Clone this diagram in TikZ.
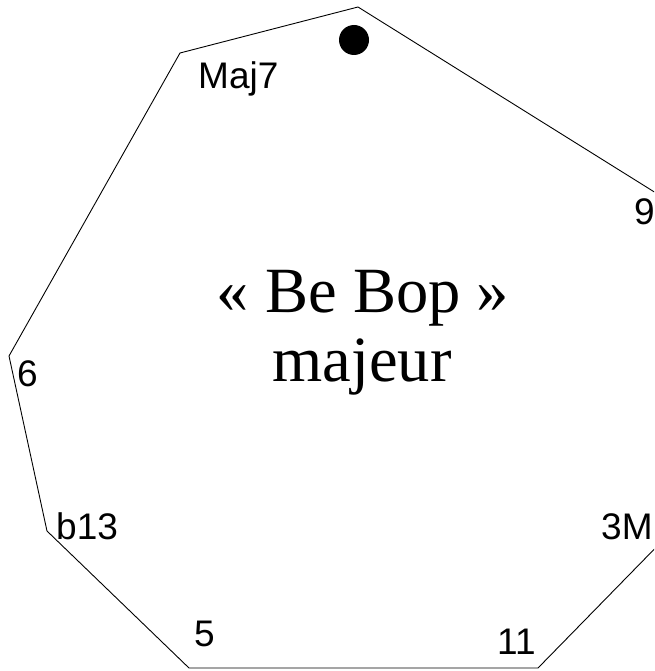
\documentclass[tikz,border=0pt]{standalone}
\usepackage{fontspec}
\setmainfont{Liberation Serif}
\newfontfamily\lab{Liberation Sans}
\begin{document}
\begin{tikzpicture}[x=1pt,y=-1pt,
  lbl/.style={anchor=base west,inner sep=0pt,font=\lab\fontsize{37}{42}\selectfont},
  edge/.style={draw=black,line width=0.9pt,line join=miter}]
\useasboundingbox (0,0) rectangle (654,671);
\clip (0,0) rectangle (654,671);
\coordinate (vT) at (358,7);
\coordinate (vTL) at (180,53);
\coordinate (vL) at (9,356);
\coordinate (vLL) at (47,531);
\coordinate (vBL) at (189,668);
\coordinate (vBR) at (538,668);
\coordinate (vRL) at (672,531);
\coordinate (vRU) at (672,203);
\draw[edge] (vT) -- (vTL) -- (vL) -- (vLL) -- (vBL) -- (vBR) -- (vRL) -- (vRU) -- cycle;
\fill (354,40) circle (15);
\node[lbl] (maj7) at (198,89) {Maj7};
\node[lbl] (nine) at (634,224) {9};
\node[lbl] (six) at (17,386) {6};
\node[lbl] (b13) at (56,539) {b13};
\node[lbl] (five) at (194,646) {5};
\node[lbl] (eleven) at (497,654) {11};
\node[lbl] (threeM) at (601,539) {3M};
\node[anchor=base,inner sep=0pt,font=\fontsize{64.5}{69}\selectfont] (t1) at (363,312) {« Be Bop »};
\node[anchor=base,inner sep=0pt,font=\fontsize{64.5}{69}\selectfont] (t2) at (362,381) {majeur};
\end{tikzpicture}
\end{document}
